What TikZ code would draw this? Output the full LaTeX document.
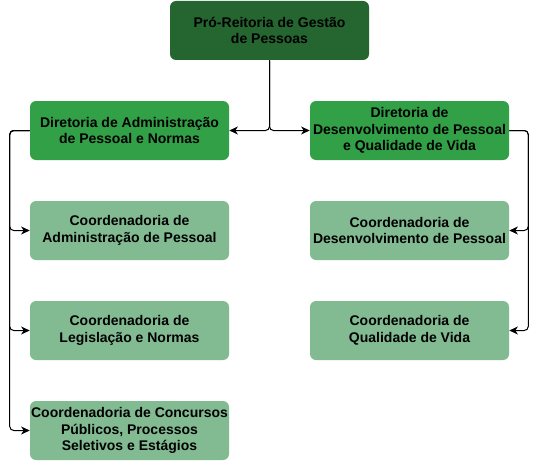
\documentclass[tikz,border=0pt]{standalone}
\usepackage{fontspec}
\setmainfont{Liberation Sans}
\usetikzlibrary{arrows.meta}
\definecolor{topgreen}{RGB}{37,101,48}
\definecolor{dirgreen}{RGB}{50,160,70}
\definecolor{crdgreen}{RGB}{130,187,146}
\tikzset{
  box/.style={draw=none, rounded corners=4.5pt, minimum width=149.25pt, minimum height=44.25pt,
    inner sep=0pt, align=center, text=black, font=\fontsize{10.5}{12.4}\selectfont\bfseries},
  topbox/.style={box, fill=topgreen},
  dirbox/.style={box, fill=dirgreen},
  crdbox/.style={box, fill=crdgreen},
  conn/.style={line width=0.75pt, rounded corners=3pt, -{Stealth[length=6.5pt,width=6pt,inset=2pt]}}
}
\begin{document}
\begin{tikzpicture}[x=0.75pt,y=-0.75pt]
\fill[white] (0,0) rectangle (538,460);
\useasboundingbox (0,0) rectangle (538,460);
\node[topbox] (p) at (269.5,30.5) {Pró-Reitoria de Gestão\\de Pessoas};
\node[dirbox] (d1) at (129.5,130.5) {Diretoria de Administração\\de Pessoal e Normas};
\node[dirbox] (d2) at (409.5,130.5) {Diretoria de\\Desenvolvimento de Pessoal\\e Qualidade de Vida};
\node[crdbox] (c1) at (129.5,230.5) {Coordenadoria de\\Administração de Pessoal};
\node[crdbox] (c2) at (129.5,330.5) {Coordenadoria de\\Legislação e Normas};
\node[crdbox] (c3) at (129.5,430.5) {Coordenadoria de Concursos\\Públicos, Processos\\Seletivos e Estágios};
\node[crdbox] (c4) at (409.5,230.5) {Coordenadoria de\\Desenvolvimento de Pessoal};
\node[crdbox] (c5) at (409.5,330.5) {Coordenadoria de\\Qualidade de Vida};
\draw[conn] (p.south) |- (d1.east);
\draw[conn] (p.south) |- (d2.west);
\draw[conn] (d1.west) -- ++(-20,0) |- (c1.west);
\draw[conn] (d1.west) -- ++(-20,0) |- (c2.west);
\draw[conn] (d1.west) -- ++(-20,0) |- (c3.west);
\draw[conn] (d2.east) -- ++(19,0) |- (c4.east);
\draw[conn] (d2.east) -- ++(19,0) |- (c5.east);
\end{tikzpicture}
\end{document}
